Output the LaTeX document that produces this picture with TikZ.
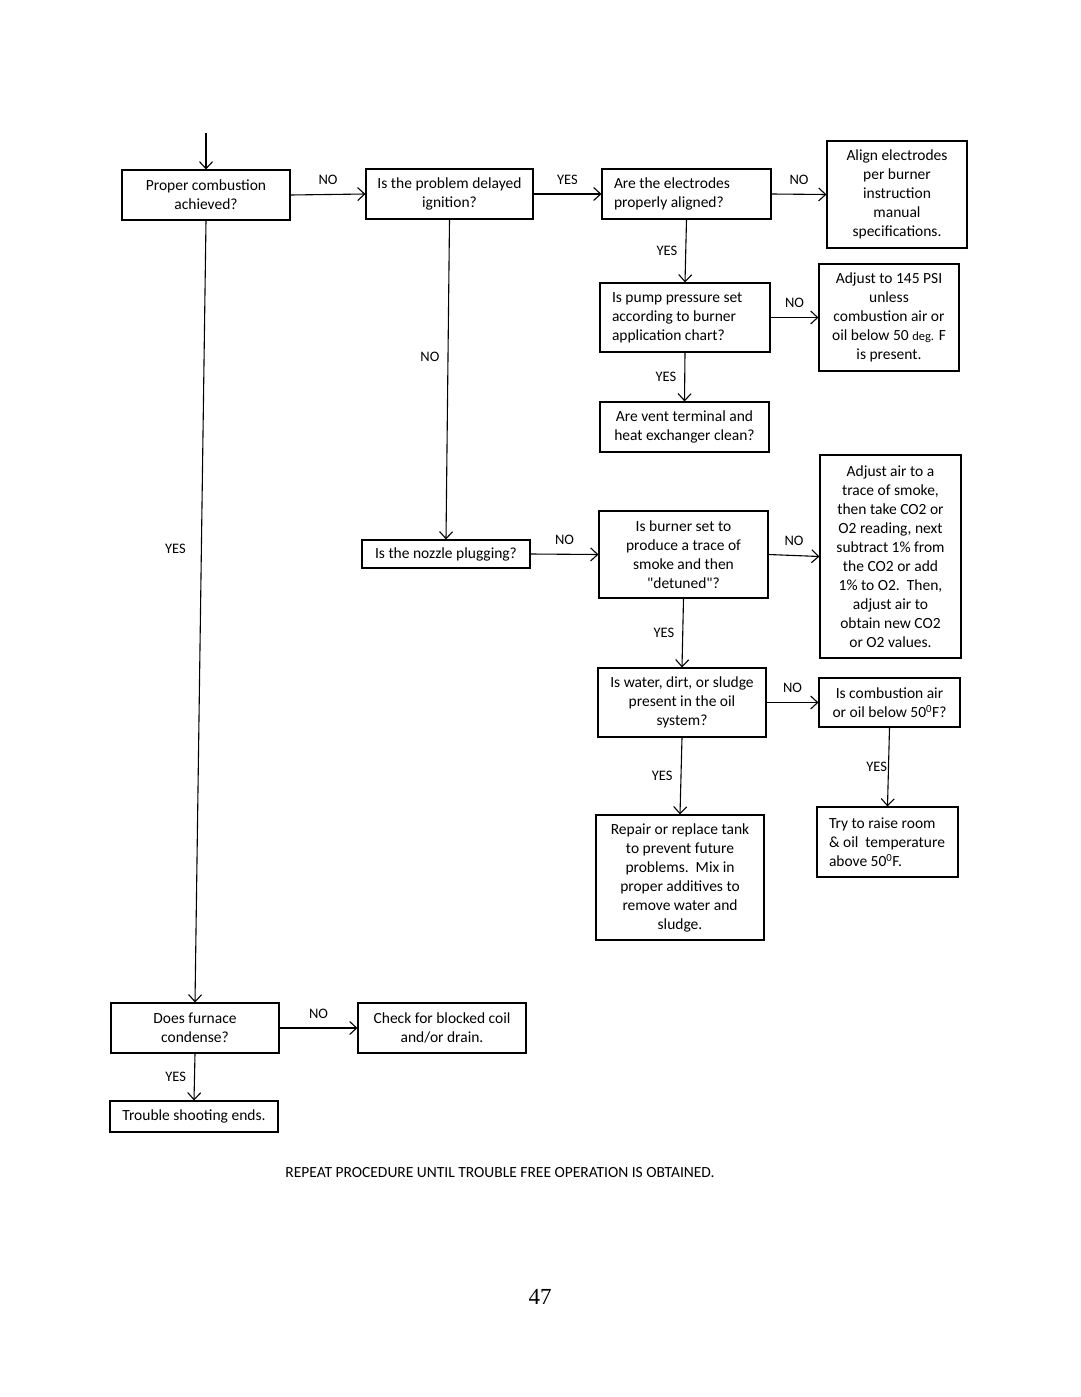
\documentclass[tikz,border=0pt]{standalone}
\usepackage{fontspec}
\setmainfont{Carlito}
\newfontfamily\pagefont{Liberation Serif}
\usetikzlibrary{arrows.meta}

\begin{document}
\begin{tikzpicture}[x=1pt, y=-1pt,
box/.style={draw=black, line width=1.1pt, inner sep=0pt, align=center, font=\fontsize{15.5}{19}\selectfont},
leftbox/.style={box, align=flush left, inner xsep=12pt},
lbl/.style={font=\fontsize{14.5}{16}\selectfont, inner sep=0pt},
link/.style={->, line width=1.1pt},
>={Straight Barb[length=7pt,width=13pt]}]
\useasboundingbox[fill=white] (0,0) rectangle (1080,1397);

\node[box, minimum width=168pt, minimum height=50pt] (comb) at (206,195) {Proper combustion\\achieved?};
\node[box, minimum width=167pt, minimum height=50pt] (delay) at (449.5,194) {Is the problem delayed\\ignition?};
\node[leftbox, text width=145pt, minimum height=50pt] (elec) at (686.5,194) {Are the electrodes\\properly aligned?};
\node[box, minimum width=140pt, minimum height=107pt] (align) at (897,194.5) {Align electrodes\\per burner\\instruction\\manual\\specifications.};
\node[leftbox, text width=146pt, minimum height=69pt] (pump) at (685,317.5) {Is pump pressure set\\according to burner\\application chart?};
\node[box, minimum width=140pt, minimum height=107pt] (press) at (889,317.5) {Adjust to 145 PSI\\unless\\combustion air or\\oil below 50 {\fontsize{12.5}{19}\selectfont deg.} F\\is present.};
\node[box, minimum width=169pt, minimum height=50pt] (vent) at (684.5,427) {Are vent terminal and\\heat exchanger clean?};
\node[box, minimum width=168pt, minimum height=28pt] (nozzle) at (446,554) {Is the nozzle plugging?};
\node[box, minimum width=169pt, minimum height=87pt] (burner) at (683.5,554.5) {Is burner set to\\produce a trace of\\smoke and then\\\textquotedbl detuned\textquotedbl?};
\node[box, minimum width=141pt, minimum height=203pt] (smoke) at (890.5,556.5) {Adjust air to a\\trace of smoke,\\then take CO2 or\\O2 reading, next\\subtract 1\% from\\the CO2 or add\\1\% to O2.\ \ Then,\\adjust air to\\obtain new CO2\\or O2 values.};
\node[box, minimum width=168pt, minimum height=69pt] (water) at (682,702.5) {Is water, dirt, or sludge\\present in the oil\\system?};
\node[box, minimum width=141pt, minimum height=49pt] (cold) at (889.5,702.5) {Is combustion air\\or oil below 50\textsuperscript{0}F?};
\node[box, minimum width=168pt, minimum height=125pt] (tank) at (680,877.5) {Repair or replace tank\\to prevent future\\problems.\ \ Mix in\\proper additives to\\remove water and\\sludge.};
\node[leftbox, text width=117pt, minimum height=70pt] (raise) at (887.5,842) {Try to raise room\\\& oil\ \ temperature\\above 50\textsuperscript{0}F.};
\node[box, minimum width=168pt, minimum height=50pt] (furnace) at (195,1028) {Does furnace\\condense?};
\node[box, minimum width=168pt, minimum height=50pt] (coil) at (442,1028) {Check for blocked coil\\and/or drain.};
\node[box, minimum width=168pt, minimum height=31pt] (ends) at (194,1116.5) {Trouble shooting ends.};

\coordinate (start) at (206,133);
\node[font=\fontsize{15.5}{17}\selectfont, inner sep=0pt] (note) at (500,1173) {REPEAT PROCEDURE UNTIL TROUBLE FREE OPERATION IS OBTAINED.};
\node[font=\pagefont\fontsize{23}{25}\selectfont, inner sep=0pt] (page) at (540,1297) {47};

\draw[link] (start) -- (comb.north);
\draw[link] (comb.east) -- node[lbl, above=9pt] {NO} (delay.west);
\draw[link] (delay.east) -- node[lbl, above=9pt] {YES} (elec.west);
\draw[link] (elec.east) -- node[lbl, above=9pt] {NO} (align.west);
\draw[link] (elec.south) -- node[lbl, left=8pt] {YES} (pump.north);
\draw[link] (pump.east) -- node[lbl, above=9pt] {NO} (press.west);
\draw[link] (pump.south) -- node[lbl, left=8pt] {YES} (vent.north);
\draw[link] (delay.south) -- node[lbl, left=8pt, pos=.43] {NO} (nozzle.north);
\draw[link] (nozzle.east) -- node[lbl, above=9pt] {NO} (burner.west);
\draw[link] (burner.east) -- node[lbl, above=9pt] {NO} (smoke.west);
\draw[link] (burner.south) -- node[lbl, left=8pt] {YES} (water.north);
\draw[link] (water.east) -- node[lbl, above=9pt] {NO} (cold.west);
\draw[link] (water.south) -- node[lbl, left=8pt] {YES} (tank.north);
\draw[link] (cold.south) -- node[lbl, left=1pt] {YES} (raise.north);
\draw[link] (comb.south) -- node[lbl, left=15pt, pos=.42] {YES} (furnace.north);
\draw[link] (furnace.east) -- node[lbl, above=9pt] {NO} (coil.west);
\draw[link] (furnace.south) -- node[lbl, left=8pt] {YES} (ends.north);
\end{tikzpicture}
\end{document}
